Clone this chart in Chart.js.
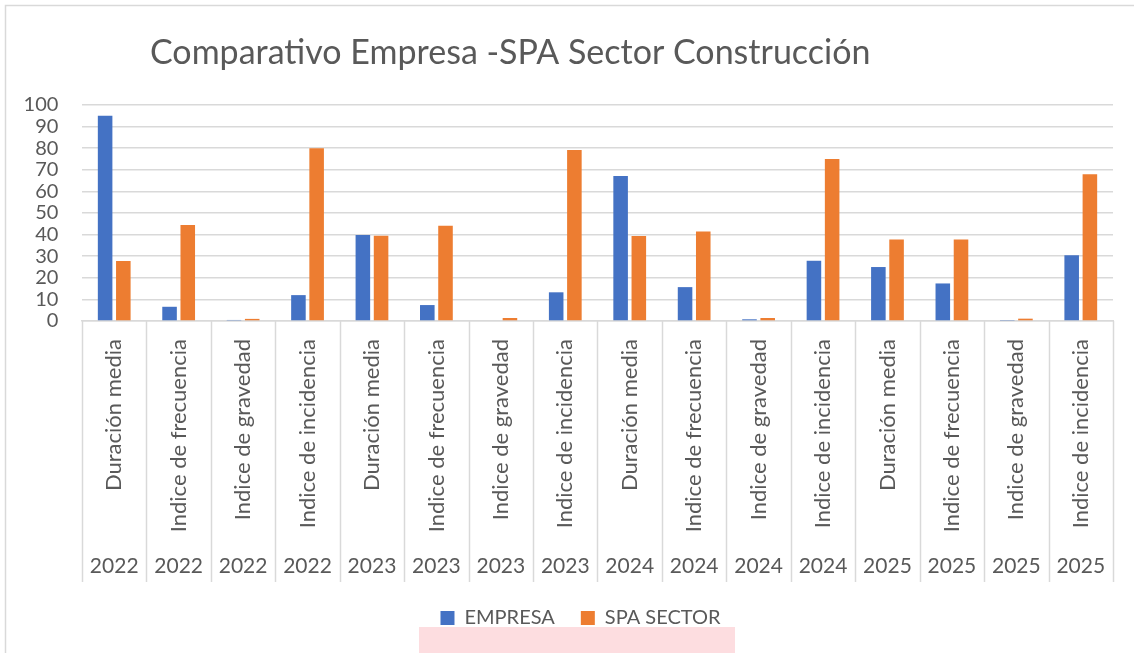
<!DOCTYPE html>
<html>
<head>
<meta charset="utf-8">
<script src="https://cdn.jsdelivr.net/npm/chart.js@4.4.1/dist/chart.umd.min.js"></script>
<style>
  html, body { margin: 0; padding: 0; background: #ffffff; }
  #wrap { width: 1134px; height: 653px; position: relative; }
</style>
</head>
<body>
<div id="wrap"><canvas id="c" width="1134" height="653"></canvas></div>
<script>
const chartTitle = 'Comparativo Empresa -SPA Sector Construcción';
const metricLabels = [
  'Duración media', 'Indice de frecuencia', 'Indice de gravedad', 'Indice de incidencia',
  'Duración media', 'Indice de frecuencia', 'Indice de gravedad', 'Indice de incidencia',
  'Duración media', 'Indice de frecuencia', 'Indice de gravedad', 'Indice de incidencia',
  'Duración media', 'Indice de frecuencia', 'Indice de gravedad', 'Indice de incidencia'
];
const yearLabels = [
  '2022', '2022', '2022', '2022',
  '2023', '2023', '2023', '2023',
  '2024', '2024', '2024', '2024',
  '2025', '2025', '2025', '2025'
];
const empresaValues = [95, 6.6, 0.5, 12, 39.8, 7.4, 0, 13.3, 67.1, 15.7, 0.8, 27.9, 25, 17.4, 0.2, 30.5];
const spaValues = [27.8, 44.4, 1, 80, 39.5, 44.1, 1.4, 79.2, 39.4, 41.5, 1.4, 75, 37.7, 37.8, 1.1, 68];
const yTicks = [0, 10, 20, 30, 40, 50, 60, 70, 80, 90, 100];

const FONT = 'Lato, "Open Sans", sans-serif';
const TEXT = '#595959';
const GRID = '#d9d9d9';

const decorPlugin = {
  id: 'decor',
  afterLayout(chart) {
    // nudge the legend row slightly right, as in the original layout
    if (chart.legend) {
      chart.legend.left += 24;
      chart.legend.right += 24;
    }
  },
  beforeDraw(chart) {
    const ctx = chart.ctx;
    ctx.save();
    ctx.fillStyle = '#ffffff';
    ctx.fillRect(0, 0, chart.width, chart.height);
    // outer chart frame
    ctx.strokeStyle = '#d9d9d9';
    ctx.lineWidth = 1.5;
    ctx.beginPath();
    ctx.moveTo(5.5, chart.height + 2);
    ctx.lineTo(5.5, 5.5);
    ctx.lineTo(chart.width + 2, 5.5);
    ctx.stroke();
    // pink highlight strip below legend
    ctx.fillStyle = '#fddde0';
    ctx.fillRect(419, 627, 316, 26);
    ctx.restore();
  },
  afterDraw(chart) {
    const ctx = chart.ctx;
    const xs = chart.scales.x;
    const x2 = chart.scales.x2;
    const area = chart.chartArea;
    ctx.save();
    // category separators spanning both label rows
    ctx.strokeStyle = GRID;
    ctx.lineWidth = 1.5;
    for (let i = 0; i <= metricLabels.length; i++) {
      const px = Math.round(xs.getPixelForValue(i - 0.5)) + 0.5;
      ctx.beginPath();
      ctx.moveTo(px, area.bottom);
      ctx.lineTo(px, x2.bottom);
      ctx.stroke();
    }
    // title
    ctx.fillStyle = TEXT;
    ctx.font = '34px ' + FONT;
    ctx.textAlign = 'left';
    ctx.textBaseline = 'middle';
    ctx.fillText(chartTitle, 150, 53);
    ctx.restore();
  }
};

new Chart(document.getElementById('c'), {
  type: 'bar',
  data: {
    labels: metricLabels,
    datasets: [
      { label: 'EMPRESA', data: empresaValues, backgroundColor: '#4472C4',
        categoryPercentage: 0.565, barPercentage: 0.8 },
      { label: 'SPA SECTOR', data: spaValues, backgroundColor: '#ED7D31',
        categoryPercentage: 0.565, barPercentage: 0.8 }
    ]
  },
  options: {
    responsive: false,
    animation: false,
    layout: { padding: { top: 105, left: 0, right: 21, bottom: 15 } },
    plugins: {
      title: { display: false },
      tooltip: { enabled: false },
      legend: {
        position: 'bottom',
        labels: {
          boxWidth: 14, boxHeight: 14, padding: 26,
          color: TEXT, font: { family: FONT, size: 20 }
        }
      }
    },
    scales: {
      x: {
        type: 'category',
        offset: true,
        grid: { display: false, drawTicks: false },
        border: { display: true, color: GRID, width: 1.5 },
        ticks: {
          autoSkip: false, minRotation: 90, maxRotation: 90, padding: 18,
          color: TEXT, font: { family: FONT, size: 22 }
        }
      },
      x2: {
        type: 'category',
        labels: yearLabels,
        position: 'bottom',
        offset: true,
        grid: { display: false, drawTicks: false },
        border: { display: false },
        ticks: {
          autoSkip: false, maxRotation: 0, minRotation: 0, padding: 3.25,
          color: TEXT, font: { family: FONT, size: 21 }
        }
      },
      y: {
        min: 0, max: 100,
        afterBuildTicks(scale) { scale.ticks = yTicks.map(v => ({ value: v })); },
        grid: { color: GRID, lineWidth: 1.5, drawTicks: false },
        border: { display: false },
        ticks: { autoSkip: false, padding: 23.6, color: TEXT, font: { family: FONT, size: 20 } }
      }
    }
  },
  plugins: [decorPlugin]
});
</script>
</body>
</html>
